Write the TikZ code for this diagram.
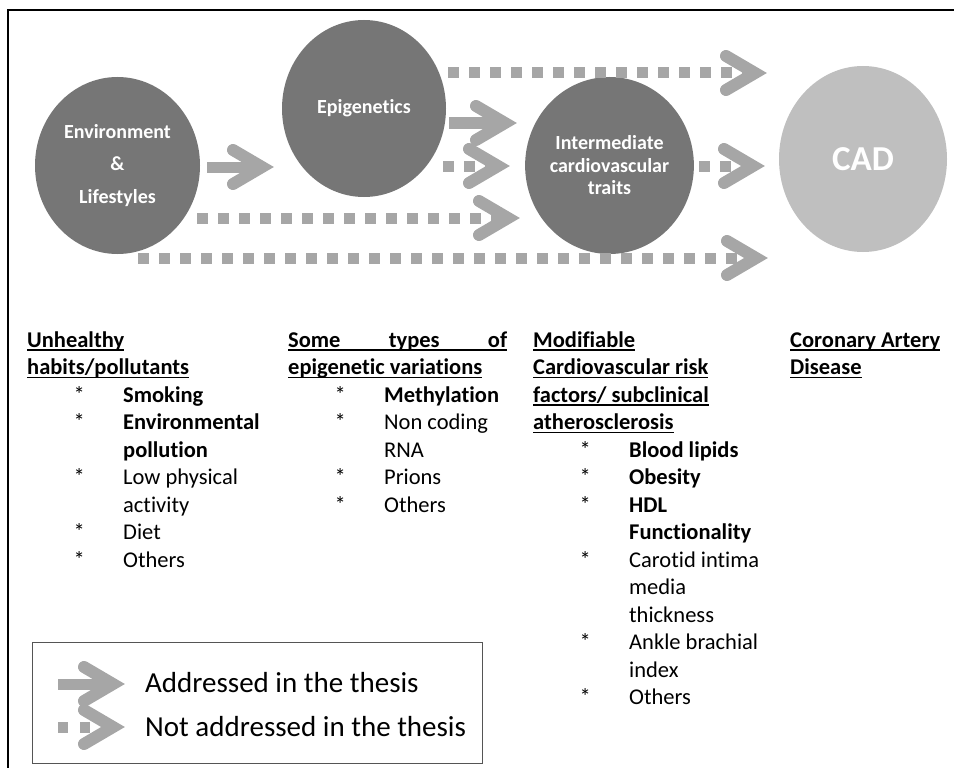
\documentclass[tikz,border=0pt]{standalone}
\usepackage{fontspec}
\setmainfont{Carlito}[Ligatures=NoCommon]
\usetikzlibrary{shapes.geometric,decorations.markings}

\definecolor{ovaldark}{HTML}{767676}
\definecolor{ovallight}{HTML}{BFBFBF}
\definecolor{arrowgray}{HTML}{A6A6A6}
\definecolor{boxgray}{HTML}{555555}

% bold text with a rule just under the baseline
\newcommand\ulbold[1]{\setbox0=\hbox{\bfseries #1}\rlap{\rule[-3.8pt]{\wd0}{1.6pt}}\box0}
\newcommand\ulboldto[2]{\setbox0=\hbox to #1{\bfseries #2}\rlap{\rule[-3.8pt]{\wd0}{1.6pt}}\box0}
% list bullet (asterisk + tab) and continuation indent
\newcommand\lstar{\makebox[96pt][l]{\hspace*{46.5pt}*}}
\newcommand\lcont{\hspace*{96pt}}

\tikzset{
  oval/.style={ellipse, fill=ovaldark, draw=none, inner sep=0pt, text=white, align=center},
  chevron/.style={postaction={decorate, decoration={markings,
      mark=at position 1 with {\draw[solid, arrowgray, line width=12pt, line cap=round, line join=miter]
        (-29,17) -- (0,0) -- (-29,-17);}}}},
  solidarrow/.style={draw=arrowgray, line width=11pt, chevron},
  dottedarrow/.style={draw=arrowgray, line width=11pt, dash pattern=on 11pt off 10pt, chevron},
  listtxt/.style={anchor=base west, inner sep=0pt, font=\fontsize{22.5}{27.5}\selectfont},
  legtxt/.style={anchor=base west, inner sep=0pt, font=\fontsize{29}{35}\selectfont},
}

\begin{document}
\begin{tikzpicture}[x=1pt, y=-1pt]
\useasboundingbox (0,0) rectangle (954,768);

% frame
\draw[line width=2.5pt] (8,768) -- (8,10) -- (954,10);

% stages
\node[oval, minimum width=165pt, minimum height=177pt, font=\bfseries\fontsize{20}{32.5}\selectfont]
  (env) at (117.5,165.5) {Environment\\\&\\Lifestyles};
\node[oval, minimum width=164pt, minimum height=177pt, font=\bfseries\fontsize{20}{24}\selectfont]
  (epi) at (364,108.5) {Epigenetics};
\node[oval, minimum width=165pt, minimum height=177pt, font=\bfseries\fontsize{20}{22.5}\selectfont]
  (inter) at (609.5,165.5) {Intermediate\\cardiovascular\\traits};
\node[oval, fill=ovallight, minimum width=168pt, minimum height=186pt, font=\bfseries\fontsize{35}{40}\selectfont]
  (cad) at (863,159) {CAD};

% arrow ends
\coordinate (epiCadS)   at (448,73);   \coordinate (epiCadE)   at (755,73);
\coordinate (epiIntS)   at (449,123);  \coordinate (epiIntE)   at (505,123);
\coordinate (epiIntDS)  at (443,166);  \coordinate (epiIntDE)  at (498,166);
\coordinate (envEpiS)   at (207,167);  \coordinate (envEpiE)   at (262,167);
\coordinate (intCadS)   at (699,166);  \coordinate (intCadE)   at (753,166);
\coordinate (envIntS)   at (197,218);  \coordinate (envIntE)   at (508,218);
\coordinate (envCadS)   at (138,258);  \coordinate (envCadE)   at (756,258);

\draw[dottedarrow] (epiCadS) -- (epiCadE);
\draw[solidarrow]  (epiIntS) -- (epiIntE);
\draw[dottedarrow] (epiIntDS) -- (epiIntDE);
\draw[solidarrow]  (envEpiS) -- (envEpiE);
\draw[dottedarrow] (intCadS) -- (intCadE);
\draw[dottedarrow] (envIntS) -- (envIntE);
\draw[dottedarrow] (envCadS) -- (envCadE);

% column 1
\foreach \t [count=\i from 0] in {
  {\ulbold{Unhealthy}},
  {\ulbold{habits/pollutants}},
  {\lstar\textbf{Smoking}},
  {\lstar\textbf{Environmental}},
  {\lcont\textbf{pollution}},
  {\lstar Low physical},
  {\lcont activity},
  {\lstar Diet},
  {\lstar Others}}
  \node[listtxt] (colA-\i) at (27,{347+27.5*\i}) {\t};

% column 2
\foreach \t [count=\i from 0] in {
  {\ulboldto{219pt}{Some\hfill types\hfill of}},
  {\ulbold{epigenetic variations}},
  {\lstar\textbf{Methylation}},
  {\lstar Non coding},
  {\lcont RNA},
  {\lstar Prions},
  {\lstar Others}}
  \node[listtxt] (colB-\i) at (288,{347+27.5*\i}) {\t};

% column 3
\foreach \t [count=\i from 0] in {
  {\ulbold{Modifiable}},
  {\ulbold{Cardiovascular risk}},
  {\ulbold{factors/ subclinical}},
  {\ulbold{atherosclerosis}},
  {\lstar\textbf{Blood lipids}},
  {\lstar\textbf{Obesity}},
  {\lstar\textbf{HDL}},
  {\lcont\textbf{Functionality}},
  {\lstar Carotid intima},
  {\lcont media},
  {\lcont thickness},
  {\lstar Ankle brachial},
  {\lcont index},
  {\lstar Others}}
  \node[listtxt] (colC-\i) at (533,{347+27.5*\i}) {\t};

% column 4
\node[listtxt] (colD-0) at (790,347) {\ulbold{Coronary Artery}};
\node[listtxt] (colD-1) at (790,374.5) {\ulbold{Disease}};

% legend
\node[draw=boxgray, line width=1.2pt, minimum width=450pt, minimum height=121pt,
  inner sep=0pt, anchor=north west] (legend) at (32,642) {};
\coordinate (legAS) at (58,684);  \coordinate (legAE) at (113,684);
\coordinate (legBS) at (58,727);  \coordinate (legBE) at (113,727);
\draw[solidarrow] (legAS) -- (legAE);
\draw[dottedarrow, dash pattern=on 10pt off 12pt] (legBS) -- (legBE);
\node[legtxt] (legA) at (145,692) {Addressed in the thesis};
\node[legtxt] (legB) at (145,736) {Not addressed in the thesis};
\end{tikzpicture}
\end{document}
